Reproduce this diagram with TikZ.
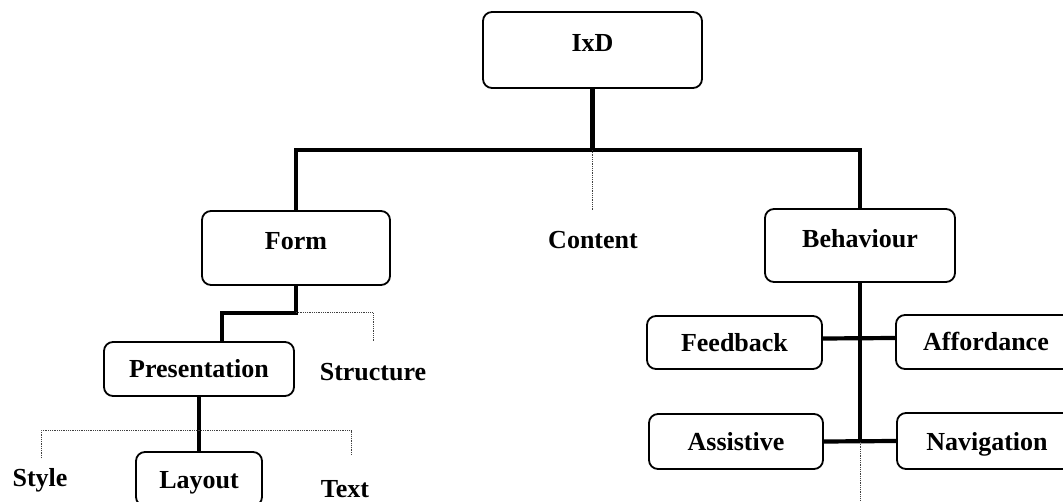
\documentclass[tikz,border=0pt]{standalone}
\usepackage{fontspec}
\setmainfont{Liberation Serif}
\begin{document}
\begin{tikzpicture}
  [x=1pt, y=-1pt]
  \tikzstyle{box} = [draw=black, line width=1.8pt, rounded corners=9pt, inner sep=0pt,
                     font=\fontsize{26}{30}\selectfont\bfseries, text height=18pt, text depth=0pt];
  \tikzstyle{big_box} = [box, text depth=14pt];
  \tikzstyle{leaf} = [inner sep=0pt, font=\fontsize{26}{30}\selectfont\bfseries,
                      text height=18pt, text depth=0pt];
  \tikzstyle{link} = [draw=black, line width=4.2pt];
  \tikzstyle{dot_link} = [draw=black!75, line width=1pt, dash pattern=on 1pt off 0.8pt];

  \useasboundingbox (0, 0) rectangle (1063, 502);
  \clip (0, 0) rectangle (1063, 502);

  \node[big_box, minimum width=219pt, minimum height=76pt] (ixd) at (592.5, 50) {IxD};

  \node[big_box, minimum width=188pt, minimum height=74pt] (form) at (296, 248) {Form};
  \node[leaf] (content) at (593, 240) {Content};
  \node[big_box, minimum width=190pt, minimum height=73pt] (behaviour) at (860, 245.5) {Behaviour};

  \node[box, minimum width=190pt, minimum height=54pt] (presentation) at (199, 369) {Presentation};
  \node[leaf] (structure) at (373, 372) {Structure};

  \node[leaf] (style) at (40, 477) {Style};
  \node[box, minimum width=126pt, minimum height=54pt] (layout) at (199, 479) {Layout};
  \node[leaf] (text) at (345, 488) {Text};

  \node[box, minimum width=175pt, minimum height=53pt] (feedback) at (734.5, 342.5) {Feedback};
  \node[box, minimum width=180pt, minimum height=54pt] (affordance) at (986, 342) {Affordance};
  \node[box, minimum width=174pt, minimum height=55pt] (assistive) at (736, 441.5) {Assistive};
  \node[box, minimum width=180pt, minimum height=56pt] (navigation) at (987, 441) {Navigation};

  \coordinate (top_split) at (592.5, 150);
  \coordinate (content_tip) at (592.5, 210);
  \coordinate (form_split) at (296, 313);
  \coordinate (structure_tip) at (373, 342);
  \coordinate (pres_split) at (199, 431);
  \coordinate (style_tip) at (41, 458);
  \coordinate (text_tip) at (351, 455);
  \coordinate (beh_low) at (860, 442);
  \coordinate (beh_tip) at (860, 500);

  \draw[link] (ixd.south) -- (top_split);
  \draw[link] (form.north) -- (form.north |- top_split) -- (behaviour.north |- top_split) -- (behaviour.north);
  \draw[dot_link] (top_split) -- (content_tip);

  \draw[link] (form.south) -- (form_split) -| ([xshift=23pt]presentation.north);
  \draw[dot_link] (form_split) -| (structure_tip);

  \draw[link] (presentation.south) -- (layout.north);
  \draw[dot_link] (style_tip) -- (style_tip |- pres_split) -- (text_tip |- pres_split) -- (text_tip);

  \draw[link] (behaviour.south) -- (beh_low);
  \draw[link] ([yshift=4pt]feedback.east) -- ([yshift=4pt]affordance.west);
  \draw[link] (assistive.east) -- (navigation.west);
  \draw[dot_link] (beh_low) -- (beh_tip);

\end{tikzpicture}
\end{document}
